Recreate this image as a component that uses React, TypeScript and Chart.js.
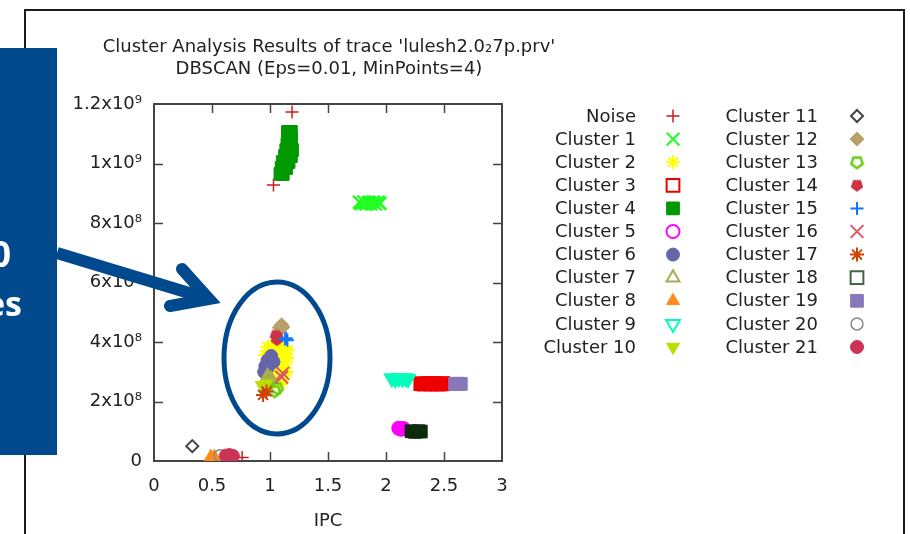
import React, { useEffect, useRef } from 'react';
import { Chart, registerables } from 'chart.js';
import { drawPoint } from 'chart.js/helpers';

Chart.register(...registerables);

// ---------- text ----------
const titleLines = ["Cluster Analysis Results of trace 'lulesh2.0\u20827p.prv'", 'DBSCAN (Eps=0.01, MinPoints=4)'];
const xAxisTitle = 'IPC';
const xTickLabels = ['0', '0.5', '1', '1.5', '2', '2.5', '3'];
const yTickLabels = ['0', '2x10\u2078', '4x10\u2078', '6x10\u2078', '8x10\u2078', '1x10\u2079', '1.2x10\u2079'];
const seriesNames = [
  'Noise', 'Cluster 1', 'Cluster 2', 'Cluster 3', 'Cluster 4', 'Cluster 5', 'Cluster 6', 'Cluster 7',
  'Cluster 8', 'Cluster 9', 'Cluster 10', 'Cluster 11', 'Cluster 12', 'Cluster 13', 'Cluster 14',
  'Cluster 15', 'Cluster 16', 'Cluster 17', 'Cluster 18', 'Cluster 19', 'Cluster 20', 'Cluster 21',
];

// ---------- data (IPC, instructions) ----------
const ipcNoise = [1.19, 1.03, 0.76];
const insNoise = [11.73e8, 9.28e8, 0.12e8];
const ipc1 = [1.77, 1.79, 1.81, 1.83, 1.85, 1.87, 1.89, 1.91, 1.93, 1.95, 1.78, 1.82, 1.86, 1.90, 1.94];
const ins1 = [8.70e8, 8.64e8, 8.71e8, 8.63e8, 8.70e8, 8.64e8, 8.71e8, 8.63e8, 8.70e8, 8.66e8, 8.67e8, 8.67e8, 8.67e8, 8.67e8, 8.67e8];
const ipc2 = [0.98, 1.04, 1.11, 1.15, 0.96, 1.03, 1.09, 1.15, 1.12, 1.14, 1.11, 1.08, 1.02, 1.05, 1.00];
const ins2 = [3.83e8, 3.90e8, 3.83e8, 3.73e8, 3.56e8, 3.63e8, 3.53e8, 3.46e8, 3.23e8, 2.99e8, 2.72e8, 2.59e8, 2.69e8, 3.06e8, 3.23e8];
const ipc3 = [2.30, 2.33, 2.36, 2.39, 2.42, 2.45, 2.48, 2.49];
const ins3 = [2.60e8, 2.58e8, 2.60e8, 2.59e8, 2.60e8, 2.58e8, 2.59e8, 2.60e8];
const ipc4 = [1.09, 1.11, 1.10, 1.14, 1.11, 1.16, 1.13, 1.18, 1.14, 1.19, 1.15, 1.18, 1.155, 1.18, 1.155, 1.18];
const ins4 = [9.65e8, 9.65e8, 9.85e8, 9.85e8, 10.05e8, 10.05e8, 10.25e8, 10.25e8, 10.45e8, 10.45e8, 10.65e8, 10.65e8, 10.86e8, 10.86e8, 11.06e8, 11.06e8];
const ipc5 = [2.11, 2.13, 2.15];
const ins5 = [1.10e8, 1.07e8, 1.09e8];
const ipc6 = [0.96, 0.98, 1.01, 0.98, 0.95, 1.03];
const ins6 = [3.19e8, 3.39e8, 3.53e8, 3.13e8, 2.99e8, 3.33e8];
const ipc7 = [0.98, 1.01, 0.96];
const ins7 = [2.85e8, 2.75e8, 2.65e8];
const ipc8 = [0.49, 0.52];
const ins8 = [0.14e8, 0.14e8];
const ipc9 = [2.05, 2.08, 2.11, 2.14, 2.17, 2.19];
const ins9 = [2.78e8, 2.76e8, 2.78e8, 2.77e8, 2.78e8, 2.76e8];
const ipc10 = [0.93, 0.97];
const ins10 = [2.55e8, 2.60e8];
const ipc11 = [0.33];
const ins11 = [0.5e8];
const ipc12 = [1.08, 1.11, 1.10];
const ins12 = [4.48e8, 4.50e8, 4.58e8];
const ipc13 = [1.06, 1.04];
const ins13 = [2.45e8, 2.35e8];
const ipc14 = [1.05, 1.07, 1.06];
const ins14 = [4.22e8, 4.15e8, 4.08e8];
const ipc15 = [1.13, 1.15, 1.14];
const ins15 = [4.10e8, 4.06e8, 4.13e8];
const ipc16 = [1.10, 1.11];
const ins16 = [2.82e8, 2.95e8];
const ipc17 = [0.94, 0.97];
const ins17 = [2.22e8, 2.34e8];
const ipc18 = [2.22, 2.25, 2.28, 2.30];
const ins18 = [1.00e8, 0.98e8, 1.00e8, 0.99e8];
const ipc19 = [2.595, 2.62, 2.645];
const ins19 = [2.59e8, 2.60e8, 2.59e8];
const ipc20 = [0.57];
const ins20 = [0.18e8];
const ipc21 = [0.62, 0.65, 0.68];
const ins21 = [0.18e8, 0.20e8, 0.17e8];

const seriesIPC = [ipcNoise, ipc1, ipc2, ipc3, ipc4, ipc5, ipc6, ipc7, ipc8, ipc9, ipc10, ipc11, ipc12, ipc13, ipc14, ipc15, ipc16, ipc17, ipc18, ipc19, ipc20, ipc21];
const seriesIns = [insNoise, ins1, ins2, ins3, ins4, ins5, ins6, ins7, ins8, ins9, ins10, ins11, ins12, ins13, ins14, ins15, ins16, ins17, ins18, ins19, ins20, ins21];

const FONT = "'DejaVu Sans', sans-serif";
const TEXT = '#222222';
const T = 'rgba(0,0,0,0)';

function makePentagon(color: string, filled: boolean, r: number, lw: number) {
  const c = document.createElement('canvas');
  const s = Math.ceil(2 * r + lw + 2);
  c.width = s;
  c.height = s;
  const g = c.getContext('2d')!;
  g.beginPath();
  for (let k = 0; k < 5; k++) {
    const a = Math.PI / 2 + (k * 2 * Math.PI) / 5;
    const px = s / 2 + r * Math.cos(a);
    const py = s / 2 + r * Math.sin(a);
    if (k === 0) g.moveTo(px, py);
    else g.lineTo(px, py);
  }
  g.closePath();
  if (filled) {
    g.fillStyle = color;
    g.fill();
  } else {
    g.strokeStyle = color;
    g.lineWidth = lw;
    g.stroke();
  }
  return c;
}

type MStyle = { color: string; style: any; radius: number; width: number; plotFill: string; legendFill: string; plotBorder?: string; legendWidth?: number; rotation?: number };

function buildStyles(): MStyle[] {
  return [
    { color: '#c81e1e', style: 'cross', radius: 6.5, width: 1.5, plotFill: T, legendFill: T },
    { color: '#22ff22', style: 'crossRot', radius: 9, width: 2, plotFill: T, legendFill: T },
    { color: '#ffff00', style: 'star', radius: 7, width: 2.5, plotFill: T, legendFill: T },
    { color: '#ee0000', style: 'rect', radius: 9, width: 2, plotFill: '#ee0000', legendFill: T },
    { color: '#009900', style: 'rect', radius: 9, width: 1, plotFill: '#009900', legendFill: '#009900' },
    { color: '#ff00ff', style: 'circle', radius: 6.5, width: 2, plotFill: '#ff00ff', legendFill: T },
    { color: '#6565a9', style: 'circle', radius: 6.5, width: 1, plotFill: '#6565a9', legendFill: '#6565a9' },
    { color: '#aaaa50', style: 'triangle', radius: 7.5, width: 2, plotFill: '#aaaa50', legendFill: T },
    { color: '#ff8c1a', style: 'triangle', radius: 7.5, width: 1, plotFill: '#ff8c1a', legendFill: '#ff8c1a' },
    { color: '#00ffbb', style: 'triangle', radius: 8, width: 2, plotFill: '#00ffbb', legendFill: T, rotation: 180 },
    { color: '#bbdd00', style: 'triangle', radius: 7.5, width: 1, plotFill: '#bbdd00', legendFill: '#bbdd00', rotation: 180 },
    { color: '#444444', style: 'rectRot', radius: 6, width: 2, plotFill: T, legendFill: T },
    { color: '#b8a068', style: 'rectRot', radius: 7, width: 1, plotFill: '#b8a068', legendFill: '#b8a068' },
    { color: '#66cc11', style: makePentagon('#66cc11', false, 6, 2.5), radius: 6, width: 2, plotFill: T, legendFill: T },
    { color: '#cc3344', style: makePentagon('#cc3344', true, 6.5, 1), radius: 6, width: 1, plotFill: '#cc3344', legendFill: '#cc3344' },
    { color: '#1177ff', style: 'cross', radius: 6.5, width: 2, plotFill: T, legendFill: T },
    { color: '#dd5566', style: 'crossRot', radius: 9, width: 2, plotFill: T, legendFill: T },
    { color: '#cc4400', style: 'star', radius: 7, width: 2, plotFill: T, legendFill: T },
    { color: '#446644', style: 'rect', radius: 9, width: 1, plotFill: '#0c2a0c', legendFill: T, plotBorder: '#0c2a0c', legendWidth: 2 },
    { color: '#8877bb', style: 'rect', radius: 9, width: 1, plotFill: '#8877bb', legendFill: '#8877bb' },
    { color: '#888888', style: 'circle', radius: 6, width: 1.5, plotFill: T, legendFill: T },
    { color: '#cc3355', style: 'circle', radius: 6.5, width: 1, plotFill: '#cc3355', legendFill: '#cc3355' },
  ];
}

export default function App() {
  const ref = useRef<HTMLCanvasElement>(null);

  useEffect(() => {
    const canvas = ref.current!;
    const styles = buildStyles();

    const datasets = seriesNames.map((name, i) => ({
      label: name,
      data: seriesIPC[i].map((x, j) => ({ x, y: seriesIns[i][j] })),
      pointStyle: styles[i].style,
      pointRadius: styles[i].radius,
      pointHoverRadius: styles[i].radius,
      pointBorderWidth: styles[i].width,
      borderColor: styles[i].plotBorder || styles[i].color,
      backgroundColor: styles[i].plotFill,
      pointRotation: styles[i].rotation || 0,
      showLine: false,
      clip: 0,
      order: 100 - i,
    }));

    const decor = {
      id: 'decor',
      beforeDatasetsDraw(chart: any) {
        const { ctx, chartArea: a, scales } = chart;
        ctx.save();
        ctx.strokeStyle = '#444444';
        ctx.lineWidth = 2;
        ctx.strokeRect(a.left, a.top, a.right - a.left, a.bottom - a.top);
        ctx.lineWidth = 1.5;
        const tl = 9;
        const xs = scales.x;
        xs.ticks.forEach((t: any, k: number) => {
          if (k === 0 || k === xs.ticks.length - 1) return;
          const px = Math.round(xs.getPixelForValue(t.value)) + 0.5;
          ctx.beginPath();
          ctx.moveTo(px, a.bottom);
          ctx.lineTo(px, a.bottom - tl);
          ctx.moveTo(px, a.top);
          ctx.lineTo(px, a.top + tl);
          ctx.stroke();
        });
        const ys = scales.y;
        ys.ticks.forEach((t: any, k: number) => {
          if (k === 0 || k === ys.ticks.length - 1) return;
          const py = Math.round(ys.getPixelForValue(t.value)) + 0.5;
          ctx.beginPath();
          ctx.moveTo(a.left, py);
          ctx.lineTo(a.left + tl, py);
          ctx.moveTo(a.right, py);
          ctx.lineTo(a.right - tl, py);
          ctx.stroke();
        });
        ctx.restore();
      },
      afterDraw(chart: any) {
        const { ctx } = chart;
        ctx.save();
        ctx.font = `18px ${FONT}`;
        ctx.fillStyle = TEXT;
        ctx.textAlign = 'center';
        ctx.textBaseline = 'middle';
        ctx.fillText(titleLines[0], 329, 47.5);
        ctx.fillText(titleLines[1], 329, 69.5);

        const rowY0 = 116;
        const rowDy = 23.1;
        seriesNames.forEach((name, i) => {
          const col = i < 11 ? 0 : 1;
          const row = i < 11 ? i : i - 11;
          const y = rowY0 + row * rowDy;
          const textRight = col === 0 ? 636 : 818;
          const symX = col === 0 ? 673 : 857;
          ctx.fillStyle = TEXT;
          ctx.textAlign = 'right';
          ctx.fillText(name, textRight, y + 1);
          const s = styles[i];
          const lw = s.legendWidth || Math.min(s.width, 2);
          ctx.strokeStyle = s.color;
          ctx.fillStyle = s.legendFill;
          ctx.lineWidth = lw;
          drawPoint(ctx, { pointStyle: s.style, rotation: s.rotation || 0, radius: s.radius, borderWidth: lw } as any, symX, y);
        });
        ctx.restore();
      },
    };

    const chart = new Chart(canvas, {
      type: 'scatter',
      data: { datasets: datasets as any },
      options: {
        responsive: false,
        animation: false,
        events: [],
        layout: { padding: { left: 0, top: 104, right: 408, bottom: 0 } },
        plugins: {
          legend: { display: false },
          tooltip: { enabled: false },
          title: { display: false },
        },
        scales: {
          x: {
            type: 'linear',
            min: 0,
            max: 3,
            grid: { display: false, drawTicks: false },
            border: { display: false },
            ticks: {
              stepSize: 0.5,
              padding: 15,
              color: TEXT,
              font: { family: FONT, size: 18 },
              maxRotation: 0,
              autoSkip: false,
              callback: (_v: any, i: number) => xTickLabels[i],
            },
            title: {
              display: true,
              text: xAxisTitle,
              color: TEXT,
              font: { family: FONT, size: 18 },
              padding: { top: 0, bottom: 2 },
            },
            afterFit: (s: any) => {
              s.height = 73;
            },
          },
          y: {
            type: 'linear',
            min: 0,
            max: 1.2e9,
            grid: { display: false, drawTicks: false },
            border: { display: false },
            ticks: {
              stepSize: 2e8,
              padding: 12,
              color: TEXT,
              font: { family: FONT, size: 18 },
              autoSkip: false,
              callback: (_v: any, i: number) => yTickLabels[i],
            },
            afterFit: (s: any) => {
              s.width = 154;
            },
          },
        },
      },
      plugins: [decor],
    });

    return () => chart.destroy();
  }, []);

  const blue = '#00498d';

  return (
    <div style={{ position: 'fixed', left: 0, top: 0, width: 910, height: 534, background: '#ffffff', overflow: 'hidden' }}>
      <div style={{ position: 'absolute', left: 24, top: 9, width: 877, height: 600, border: '2px solid #1a1a1a' }} />
      <canvas ref={ref} width={910} height={534} style={{ position: 'absolute', left: 0, top: 0, width: 910, height: 534, display: 'block' }} />
      <svg width={910} height={534} style={{ position: 'absolute', left: 0, top: 0, pointerEvents: 'none' }}>
        <rect x={0} y={48} width={57} height={407} fill={blue} />
        <text x={11} y={267} textAnchor="end" fill="#ffffff" fontFamily="'Open Sans', sans-serif" fontWeight="bold" fontSize={36}>0</text>
        <text x={22} y={316} textAnchor="end" fill="#ffffff" fontFamily="'Open Sans', sans-serif" fontWeight="bold" fontSize={34}>es</text>
        <line x1={57} y1={253} x2={209} y2={299} stroke={blue} strokeWidth={12} />
        <polyline points="182,269 209,299 170,306" fill="none" stroke={blue} strokeWidth={12} strokeLinejoin="miter" strokeLinecap="round" />
        <ellipse cx={277} cy={358} rx={53} ry={76} fill="none" stroke={blue} strokeWidth={5} />
      </svg>
    </div>
  );
}
